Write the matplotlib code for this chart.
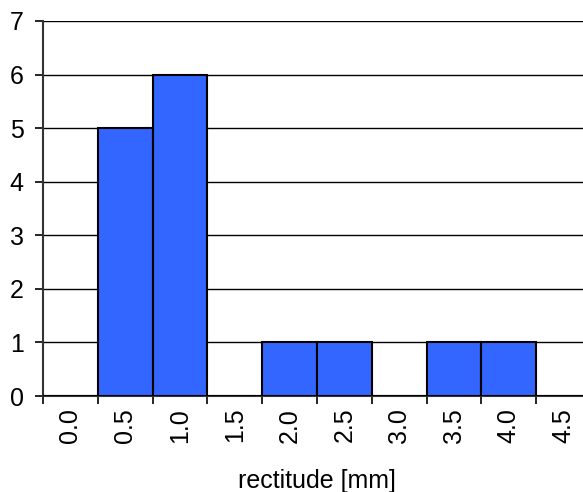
import matplotlib.pyplot as plt
import numpy as np

plt.rcParams['font.family'] = ['Liberation Sans', 'DejaVu Sans']

# histogram data
categories = ["0.0", "0.5", "1.0", "1.5", "2.0", "2.5", "3.0", "3.5", "4.0", "4.5"]
counts = [0, 5, 6, 0, 1, 1, 0, 1, 1, 0]

fig = plt.figure(figsize=(5.83, 4.92), dpi=100)
# plot area runs past the right edge of the picture, as in the original
ax = fig.add_axes([43 / 583, 96 / 492, 548 / 583, 375 / 492])

x = np.arange(len(categories))
ax.bar(x, counts, width=1.0, color="#3366ff", edgecolor="black", linewidth=1.5, zorder=3)

ax.set_xlim(-0.5, len(categories) - 0.5)
ax.set_ylim(0, 7)
ax.set_yticks(range(0, 8))
ax.yaxis.grid(True, color="black", linewidth=1.0, zorder=0)
ax.set_axisbelow(True)

ax.set_xticks(x)
ax.set_xticklabels(categories, rotation=90, fontsize=18)
ax.tick_params(axis="x", length=0, pad=8.5)
ax.set_xticks(np.arange(len(categories) + 1) - 0.5, minor=True)
ax.tick_params(axis="x", which="minor", length=6, width=1.2, direction="out")
ax.tick_params(axis="y", labelsize=18, length=6, width=1.2, direction="out", pad=8)

for s in ["top", "right"]:
    ax.spines[s].set_visible(False)
ax.spines["left"].set_color("#333333")
ax.spines["left"].set_linewidth(1.5)
ax.spines["bottom"].set_color("#333333")
ax.spines["bottom"].set_linewidth(1.5)

ax.set_xlabel("rectitude [mm]", fontsize=18, labelpad=19)

fig.savefig("out.png", dpi=100)
